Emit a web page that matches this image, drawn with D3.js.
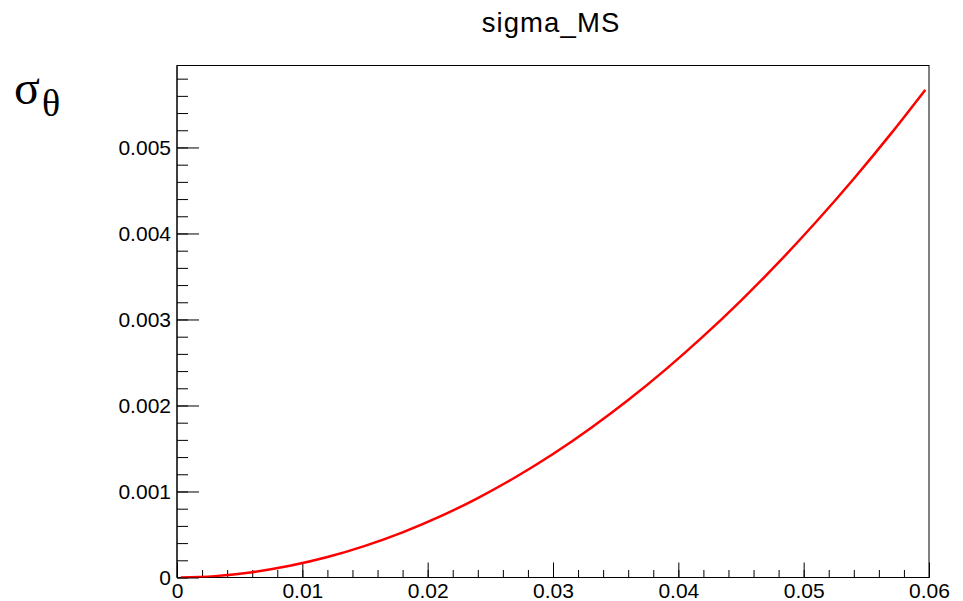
<!DOCTYPE html>
<html>
<head>
<meta charset="utf-8">
<script src="https://cdn.jsdelivr.net/npm/d3@7"></script>
<style>
  html, body { margin: 0; padding: 0; background: #fff; }
  svg { display: block; }
</style>
</head>
<body>
<svg id="chart" width="963" height="601"></svg>
<script>
// ---- data ----
const title = "sigma_MS";
const xValues = [0.0003, 0.003, 0.006, 0.009, 0.012, 0.015, 0.018, 0.021, 0.024, 0.027, 0.030,
                 0.033, 0.036, 0.039, 0.042, 0.045, 0.048, 0.051, 0.054, 0.057, 0.0597];
const sigmaValues = [0.0000002, 0.000016, 0.000062, 0.000136, 0.000238, 0.000368, 0.000525, 0.00071,
                     0.000924, 0.001166, 0.001436, 0.001736, 0.002064, 0.00242, 0.002806, 0.00322,
                     0.003663, 0.004136, 0.004637, 0.005167, 0.00567];
const xTickValues = [0, 0.01, 0.02, 0.03, 0.04, 0.05, 0.06];
const xTickLabels = ["0", "0.01", "0.02", "0.03", "0.04", "0.05", "0.06"];
const yTickValues = [0, 0.001, 0.002, 0.003, 0.004, 0.005];
const yTickLabels = ["0", "0.001", "0.002", "0.003", "0.004", "0.005"];
const xDomain = [0, 0.06];
const yDomain = [0, 0.005953];

// ---- layout ----
const svg = d3.select("#chart");
const mLeft = 177, mRight = 929, mTop = 65.5, mBottom = 577.5;
const sans = "'Liberation Sans', Arial, Helvetica, sans-serif";
const serif = "'Liberation Serif', 'Times New Roman', serif";

const x = d3.scaleLinear().domain(xDomain).range([mLeft, mRight]);
const y = d3.scaleLinear().domain(yDomain).range([mBottom, mTop]);

// frame
svg.append("rect")
  .attr("x", mLeft).attr("y", mTop)
  .attr("width", mRight - mLeft).attr("height", mBottom - mTop)
  .attr("fill", "none").attr("stroke", "#000").attr("stroke-width", 1);

// minor ticks
const xMinor = d3.range(0, 0.06 + 1e-9, 0.002);
const yMinor = d3.range(0, yDomain[1], 0.0002);

svg.append("g")
  .attr("transform", `translate(0,${mBottom})`)
  .call(d3.axisBottom(x).tickValues(xMinor).tickSize(-7.5).tickFormat(""))
  .call(g => g.select(".domain").remove())
  .selectAll("line").attr("stroke", "#000");

svg.append("g")
  .attr("transform", `translate(${mLeft},0)`)
  .call(d3.axisLeft(y).tickValues(yMinor).tickSize(-11).tickFormat(""))
  .call(g => g.select(".domain").remove())
  .selectAll("line").attr("stroke", "#000");

// major ticks with labels
const xAxis = svg.append("g")
  .attr("transform", `translate(0,${mBottom})`)
  .call(d3.axisBottom(x).tickValues(xTickValues).tickSize(-15).tickPadding(6)
        .tickFormat((d, i) => xTickLabels[i]));
xAxis.select(".domain").attr("stroke", "#000").attr("d", `M${mLeft},0H${mRight}`);
xAxis.selectAll("line").attr("stroke", "#000");
xAxis.selectAll("text").style("font-size", "21px").style("font-family", sans).attr("fill", "#000");

const yAxis = svg.append("g")
  .attr("transform", `translate(${mLeft},0)`)
  .call(d3.axisLeft(y).tickValues(yTickValues).tickSize(-22).tickPadding(6)
        .tickFormat((d, i) => yTickLabels[i]));
yAxis.select(".domain").attr("stroke", "#000").attr("d", `M0,${mBottom}V${mTop}`);
yAxis.selectAll("line").attr("stroke", "#000");
yAxis.selectAll("text").style("font-size", "21px").style("font-family", sans).attr("fill", "#000");

// curve
svg.append("defs").append("clipPath").attr("id", "clip")
  .append("rect").attr("x", mLeft).attr("y", mTop)
  .attr("width", mRight - mLeft).attr("height", mBottom - mTop);

const line = d3.line()
  .x((d, i) => x(xValues[i]))
  .y(d => y(d))
  .curve(d3.curveNatural);

svg.append("path")
  .datum(sigmaValues)
  .attr("clip-path", "url(#clip)")
  .attr("d", line)
  .attr("fill", "none")
  .attr("stroke", "#ff0000")
  .attr("stroke-width", 2.5);

// title
svg.append("text")
  .attr("x", 551).attr("y", 32)
  .attr("text-anchor", "middle")
  .style("font-size", "27.5px")
  .style("font-family", sans)
  .style("letter-spacing", "1.1px")
  .attr("fill", "#000")
  .text(title);

// y axis label sigma_theta
const ylab = svg.append("text")
  .attr("x", 14).attr("y", 104)
  .style("font-family", serif)
  .attr("fill", "#000");
ylab.append("tspan").style("font-size", "48px").text("σ");
ylab.append("tspan").style("font-size", "38px").attr("dx", 2).attr("dy", 12).text("θ");
</script>
</body>
</html>
